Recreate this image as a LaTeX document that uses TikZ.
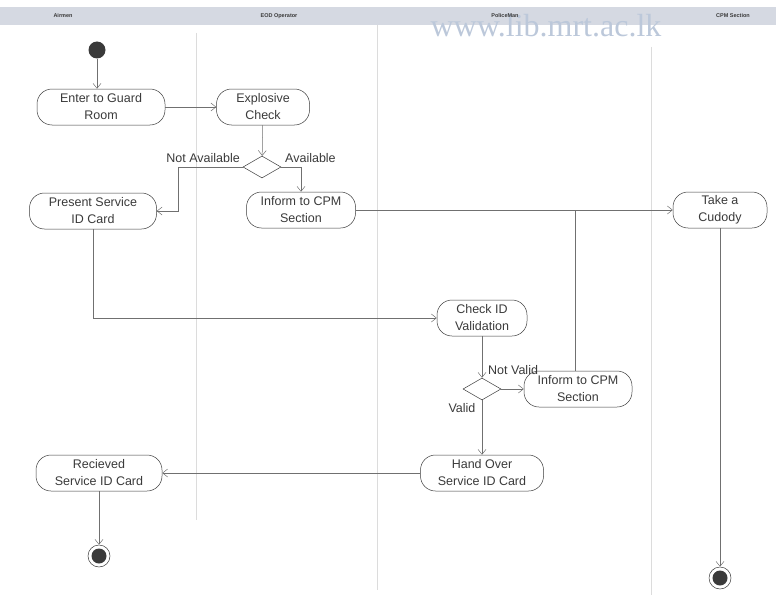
\documentclass[tikz,border=0pt]{standalone}
\usepackage{fontspec}
\setmainfont{Liberation Sans}
\newfontfamily\wmfont{Liberation Serif}
\usetikzlibrary{shapes.geometric,arrows.meta}
\definecolor{ink}{HTML}{3A3A3A}
\definecolor{wire}{HTML}{707070}
\definecolor{lanegrey}{HTML}{DCDCDC}
\definecolor{headband}{HTML}{D5D9E2}
\definecolor{watermark}{HTML}{BCC8DA}

\begin{document}
\begin{tikzpicture}[x=1pt, y=-1pt, font=\fontsize{12.5}{17}\selectfont,
    >={Straight Barb[length=5pt,width=8pt]}]
  % page = the scanned sheet, 776 x 602, y running down
  \useasboundingbox (0,0) rectangle (776,602);
  \tikzset{
    act/.style={draw=ink, line width=0.5pt, rectangle, rounded corners=15pt,
                minimum height=36pt, align=center, inner sep=1pt, text=ink},
    choice/.style={draw=ink, line width=0.5pt, diamond, minimum width=38pt,
                   minimum height=22pt, inner sep=0pt},
    flow/.style={draw=wire, line width=0.5pt, ->},
    guard/.style={text=ink, inner sep=1pt},
    lanename/.style={font=\fontsize{5.5}{6}\selectfont\bfseries, text=ink},
    startdot/.style={circle, fill=ink, minimum size=17pt, inner sep=0pt},
    enddot/.style={circle, draw=ink, line width=0.5pt, minimum size=22pt,
                   inner sep=0pt, path picture={
                     \fill[ink] (path picture bounding box.center) circle (7.5pt);}}}

  % ========== lanes ==========
  \fill[headband] (0,7) rectangle (776,25);
  \node[font=\wmfont\fontsize{32}{32}\selectfont, text=watermark] (wm)
    at (546,26) {www.lib.mrt.ac.lk};
  \node[lanename] (airmen) at (63,16)  {Airmen};
  \node[lanename] (eod)    at (279,16) {EOD Operator};
  \node[lanename] (police) at (505,16) {PoliceMan};
  \node[lanename] (cpm)    at (733,16) {CPM Section};
  \draw[lanegrey, line width=0.6pt] (196,33) -- (196,520);
  \draw[lanegrey, line width=0.6pt] (377,25) -- (377,590);
  \draw[lanegrey, line width=0.6pt] (651,47) -- (651,595);

  % ========== activities ==========
  \node[startdot] (start) at (97,50) {};
  \node[act, minimum width=128pt] (enter)   at (101,107) {Enter to Guard\\Room};
  \node[act, minimum width=93pt]  (explo)   at (263,107) {Explosive\\Check};
  \node[choice]                   (d1)      at (262,167) {};
  \node[act, minimum width=127pt] (present) at (93,211)  {Present Service\\ID Card};
  \node[act, minimum width=109pt] (inform1) at (301,210) {Inform to CPM\\Section};
  \node[act, minimum width=94pt]  (take)    at (720,210) {Take a\\Cudody};
  \node[act, minimum width=90pt]  (check)   at (482,318) {Check ID\\Validation};
  \node[choice]                   (d2)      at (482,389) {};
  \node[act, minimum width=108pt] (inform2) at (578,389) {Inform to CPM\\Section};
  \node[act, minimum width=123pt] (hand)    at (482,473) {Hand Over\\Service ID Card};
  \node[act, minimum width=126pt] (recv)    at (99,473)  {Recieved\\Service ID Card};
  \node[enddot] (end1) at (99,556) {};
  \node[enddot] (end2) at (720,578) {};

  % guards
  \node[guard, anchor=east] (notavail) at (241,158) {Not Available};
  \node[guard, anchor=west] (avail)    at (284,158) {Available};
  \node[guard, anchor=west] (notvalid) at (487,370) {Not Valid};
  \node[guard]              (valid)    at (462,408) {Valid};

  % ========== flows ==========
  \coordinate (nabend) at (178,167);
  \coordinate (upjoin) at (575,210);
  \draw[flow] (start) -- (start |- enter.north);
  \draw[flow] (enter) -- (explo);
  \draw[flow] (explo) -- (d1);
  \draw[flow] (d1.west) -- (nabend) |- (present.east);
  \draw[flow] (d1.east) -| (inform1.north);
  \draw[flow] (inform1) -- (take);
  \draw[flow] (present.south) |- (check.west);
  \draw[flow] (check) -- (d2);
  \draw[flow] (d2) -- (inform2);
  \draw[wire, line width=0.5pt] (inform2.north -| upjoin) -- (upjoin);
  \draw[flow] (d2) -- (hand);
  \draw[flow] (hand) -- (recv);
  \draw[flow] (recv) -- (end1);
  \draw[flow] (take) -- (end2);
\end{tikzpicture}
\end{document}
